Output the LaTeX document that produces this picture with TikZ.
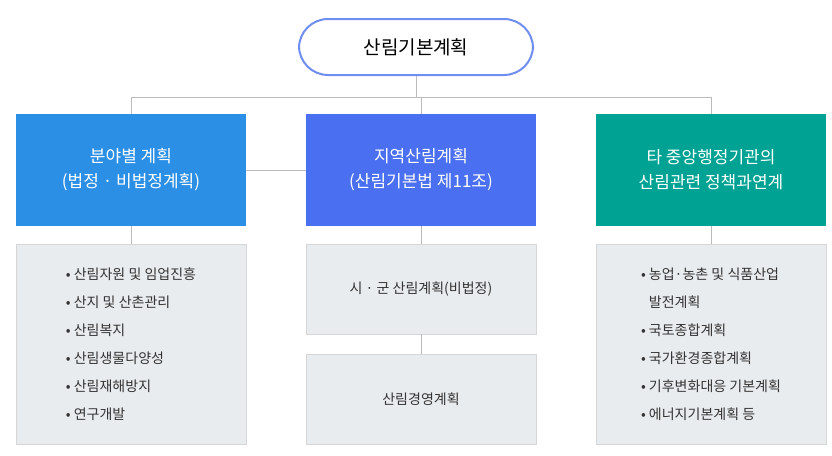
\documentclass[tikz,border=0pt]{standalone}
\usepackage{fontspec}
\setmainfont{Noto Sans CJK KR}
\usetikzlibrary{positioning}
\definecolor{lineclr}{HTML}{BBBBBB}
\definecolor{topclr}{HTML}{6F8EF0}
\definecolor{leftclr}{HTML}{2B8FE6}
\definecolor{midclr}{HTML}{4A6FF0}
\definecolor{rightclr}{HTML}{00A393}
\definecolor{greyclr}{HTML}{E9ECEF}
\tikzset{
    headbox/.style={minimum width=230pt, minimum height=112pt, text=white,
        font=\fontsize{17}{25}\selectfont, align=center},
    itembox/.style={draw=lineclr!60, fill=greyclr, minimum width=230pt,
        text=black!80, font=\fontsize{14}{28}\selectfont},
    link/.style={draw=lineclr, line width=0.8pt}
}
\begin{document}
\begin{tikzpicture}[x=1pt,y=-1pt]
    \useasboundingbox (0,0) rectangle (832,455);
    \node[draw=topclr, line width=2pt, rounded corners=29pt, fill=white,
        minimum width=234pt, minimum height=56pt, font=\fontsize{19}{22}\selectfont]
        (plan) at (416,47) { 산림기본계획 };
    \node[headbox, fill=leftclr] (field) at (131,170) { 분야별 계획\\(법정 · 비법정계획) };
    \node[headbox, fill=midclr] (region) at (421,170) { 지역산림계획\\(산림기본법 제11조) };
    \node[headbox, fill=rightclr] (agency) at (711,170) { 타 중앙행정기관의\\산림관련 정책과연계 };
    \node[itembox, minimum height=200pt, align=left] (fielditems) at (131,344) {
        • 산림자원 및 임업진흥\\ • 산지 및 산촌관리\\ • 산림복지\\
        • 산림생물다양성\\ • 산림재해방지\\ • 연구개발 };
    \node[itembox, minimum height=90pt] (city) at (421,289) { 시 · 군 산림계획(비법정) };
    \node[itembox, minimum height=90pt] (manage) at (421,399) { 산림경영계획 };
    \node[itembox, minimum height=200pt, align=left] (agencyitems) at (711,344) {
        • 농업·농촌 및 식품산업\\ \phantom{• }발전계획\\ • 국토종합계획\\
        • 국가환경종합계획\\ • 기후변화대응 기본계획\\ • 에너지기본계획 등 };
    \coordinate (split) at (416,97);
    \begin{scope}[on background layer/.try]
    \end{scope}
    \draw[link] (plan.south) -- (split);
    \draw[link] (field.north |- split) -- (agency.north |- split);
    \draw[link] (field.north |- split) -- (field.north);
    \draw[link] (region.north |- split) -- (region.north);
    \draw[link] (agency.north |- split) -- (agency.north);
    \draw[link] (field.east) -- (region.west);
    \draw[link] (field.south) -- (fielditems.north);
    \draw[link] (region.south) -- (city.north);
    \draw[link] (city.south) -- (manage.north);
    \draw[link] (agency.south) -- (agencyitems.north);
\end{tikzpicture}
\end{document}
